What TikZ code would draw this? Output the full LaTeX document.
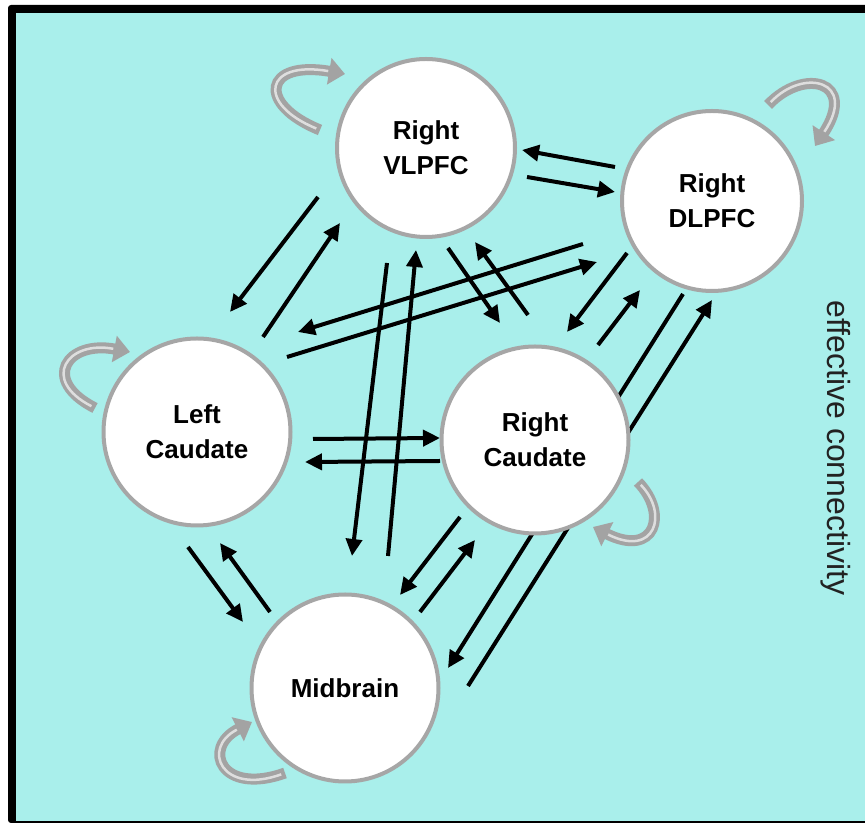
\documentclass[tikz,border=0pt]{standalone}
\usepackage{fontspec}
\setmainfont{Liberation Sans}
\usetikzlibrary{positioning,arrows.meta,calc}
\definecolor{panelbg}{HTML}{A9EFEB}
\definecolor{ringgray}{HTML}{A6A6A6}
\definecolor{loopgray}{HTML}{A3A3A3}
\definecolor{loophi}{HTML}{DEDEDE}
\definecolor{sidetext}{HTML}{222222}
\pgfdeclarelayer{panel}
\pgfdeclarelayer{wires}
\pgfsetlayers{panel,wires,main}

\begin{document}
\begin{tikzpicture}[x=1pt,y=1pt,
    region/.style={circle,draw=ringgray,line width=4,fill=white,
      minimum size=187,inner sep=0,align=center,
      font=\bfseries\fontsize{26}{35}\selectfont},
    conn/.style={line width=4,-{Triangle[length=17,width=16]}},
    selfloop/.style={draw=loopgray,line width=11,
      -{Triangle[length=16,width=26]},
      postaction={draw=loophi,line width=2.5,-,shorten >=17,shorten <=4}}]
  \useasboundingbox (0,0) rectangle (865,824);

  % regions
  \node[region,minimum size=178] (vlpfc) at (426,676) {Right\\VLPFC};
  \node[region,minimum size=180] (dlpfc) at (712,623) {Right\\DLPFC};
  \node[region] (lcaud) at (197,392) {Left\\Caudate};
  \node[region] (rcaud) at (535,384) {Right\\Caudate};
  \node[region] (midbrain) at (345,136) {Midbrain};

  \node[rotate=-90,text=sidetext,font=\fontsize{32}{32}\selectfont]
    (sidelabel) at (836,376) {effective connectivity};

  % frame
  \begin{pgfonlayer}{panel}
    \fill[white] (0,0) rectangle (865,824);
    \fill[black,rounded corners=3] (8,1) rectangle (880,819);
    \fill[panelbg] (16,2.5) rectangle (865,811);
  \end{pgfonlayer}

  % self connections
  \draw[selfloop] ($(vlpfc)+(-106,18)$) .. controls ($(vlpfc)+(-170,44)$)
    and ($(vlpfc)+(-162,88)$) .. ($(vlpfc)+(-81,74)$);
  \draw[selfloop] ($(dlpfc)+(56,96)$) .. controls ($(dlpfc)+(92,134)$)
    and ($(dlpfc)+(146,120)$) .. ($(dlpfc)+(103,55)$);
  \draw[selfloop] ($(lcaud)+(-102,24)$) .. controls ($(lcaud)+(-157,52)$)
    and ($(lcaud)+(-130,92)$) .. ($(lcaud)+(-67,80)$);
  \draw[selfloop] ($(rcaud)+(103,-42)$) .. controls ($(rcaud)+(134,-74)$)
    and ($(rcaud)+(120,-118)$) .. ($(rcaud)+(58,-87)$);
  \draw[selfloop] ($(midbrain)+(-60,-85)$) .. controls ($(midbrain)+(-124,-108)$)
    and ($(midbrain)+(-144,-60)$) .. ($(midbrain)+(-93,-34)$);

  \begin{pgfonlayer}{wires}
  % VLPFC - DLPFC
  \draw[conn] ($(dlpfc)+(-97,34)$) -- ($(vlpfc)+(96,-2)$);
  \draw[conn] ($(vlpfc)+(101,-29)$) -- ($(dlpfc)+(-97,9)$);
  % VLPFC - left caudate
  \draw[conn] ($(vlpfc)+(-108,-49)$) -- ($(lcaud)+(33,120)$);
  \draw[conn] ($(lcaud)+(66,95)$) -- ($(vlpfc)+(-86,-75)$);
  % VLPFC - midbrain
  \draw[conn] ($(vlpfc)+(-39,-115)$) -- ($(midbrain)+(7,132)$);
  \draw[conn] ($(midbrain)+(43,132)$) -- ($(vlpfc)+(-10,-102)$);
  % VLPFC - right caudate
  \draw[conn] ($(vlpfc)+(22,-100)$) -- ($(rcaud)+(-35,117)$);
  \draw[conn] ($(rcaud)+(-7,125)$) -- ($(vlpfc)+(49,-94)$);
  % DLPFC - left caudate
  \draw[conn] ($(dlpfc)+(-129,-43)$) -- ($(lcaud)+(101,100)$);
  \draw[conn] ($(lcaud)+(90,75)$) -- ($(dlpfc)+(-115,-61)$);
  % DLPFC - right caudate
  \draw[conn] ($(dlpfc)+(-85,-52)$) -- ($(rcaud)+(32,108)$);
  \draw[conn] ($(rcaud)+(63,95)$) -- ($(dlpfc)+(-72,-89)$);
  % DLPFC - midbrain
  \draw[conn] ($(dlpfc)+(-29,-93)$) -- ($(midbrain)+(103,20)$);
  \draw[conn] ($(midbrain)+(123,2)$) -- ($(dlpfc)+(0,-99)$);
  % left caudate - right caudate
  \draw[conn] ($(lcaud)+(116,-7)$) -- ($(rcaud)+(-95,2)$);
  \draw[conn] ($(rcaud)+(-95,-21)$) -- ($(lcaud)+(108,-30)$);
  % left caudate - midbrain
  \draw[conn] ($(lcaud)+(-9,-115)$) -- ($(midbrain)+(-102,66)$);
  \draw[conn] ($(midbrain)+(-75,76)$) -- ($(lcaud)+(23,-111)$);
  % right caudate - midbrain
  \draw[conn] ($(rcaud)+(-75,-77)$) -- ($(midbrain)+(55,93)$);
  \draw[conn] ($(midbrain)+(75,76)$) -- ($(rcaud)+(-60,-100)$);
  \end{pgfonlayer}
\end{tikzpicture}
\end{document}
